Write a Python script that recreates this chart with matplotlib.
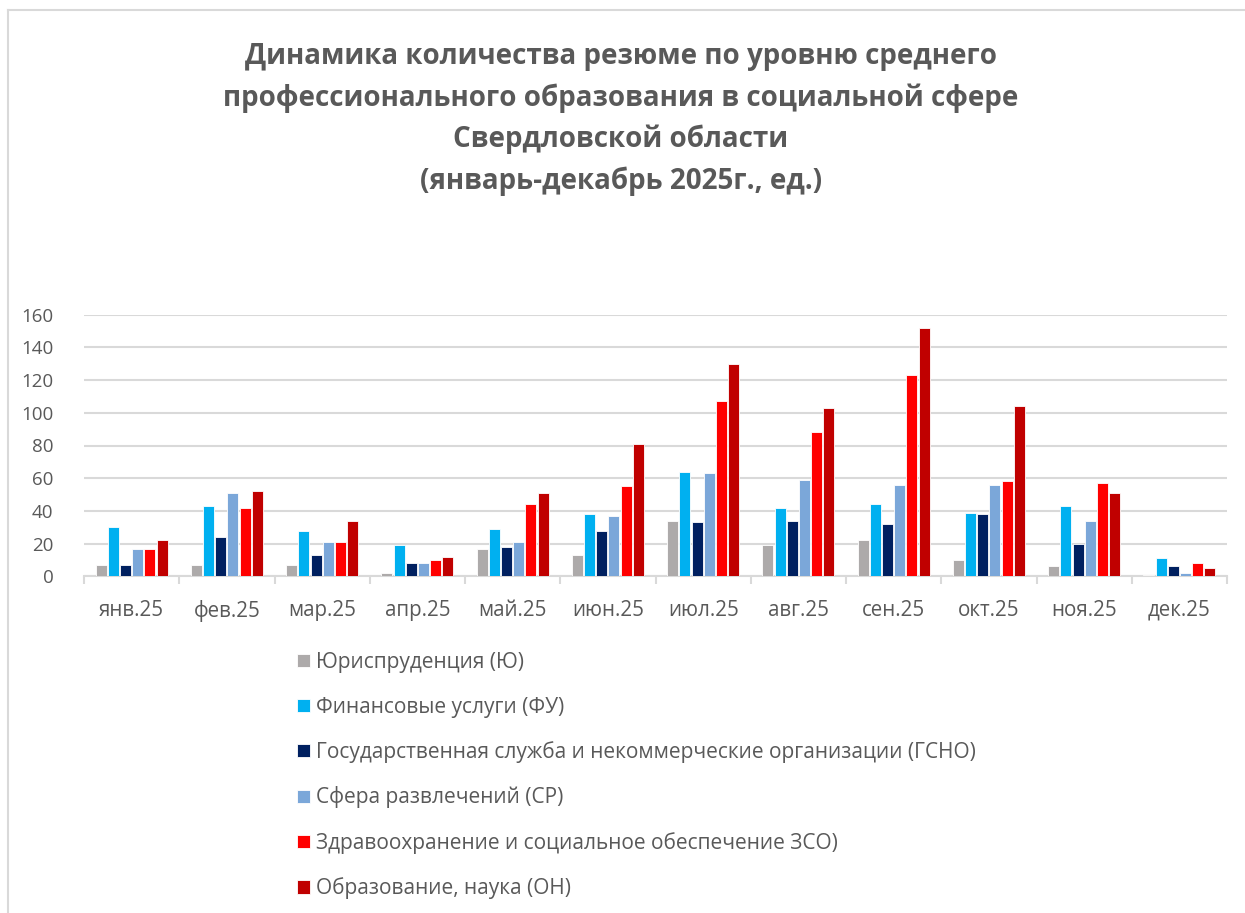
import matplotlib
matplotlib.use("Agg")
import matplotlib.pyplot as plt
import numpy as np
from matplotlib.lines import Line2D

plt.rcParams['font.family'] = ['Open Sans', 'DejaVu Sans']

months = ["янв.25", "фев.25", "мар.25", "апр.25", "май.25", "июн.25",
          "июл.25", "авг.25", "сен.25", "окт.25", "ноя.25", "дек.25"]

series_names = [
    "Юриспруденция (Ю)",
    "Финансовые услуги (ФУ)",
    "Государственная служба и некоммерческие организации (ГСНО)",
    "Сфера развлечений (СР)",
    "Здравоохранение и социальное обеспечение ЗСО)",
    "Образование, наука (ОН)",
]

law = [7, 7, 7, 2, 17, 13, 34, 19, 22, 10, 6, 1]
finance = [30, 43, 28, 19, 29, 38, 64, 42, 44, 39, 43, 11]
gov = [7, 24, 13, 8, 18, 28, 33, 34, 32, 38, 20, 6]
entertainment = [17, 51, 21, 8, 21, 37, 63, 59, 56, 56, 34, 2]
health = [17, 42, 21, 10, 44, 55, 107, 88, 123, 58, 57, 8]
education = [22, 52, 34, 12, 51, 81, 130, 103, 152, 104, 51, 5]

colors = ["#ADAAAA", "#00B0F0", "#002060", "#7BA7D9", "#FF0000", "#C00000"]

title = ("Динамика количества резюме по уровню среднего\n"
         "профессионального образования в социальной сфере\n"
         "Свердловской области\n"
         "(январь-декабрь 2025г., ед.)")

text_color = "#595959"
grid_color = "#D9D9D9"

fig = plt.figure(figsize=(12.45, 9.13), dpi=100)
ax = fig.add_axes([84 / 1245, (913 - 576.3) / 913, (1227 - 84) / 1245, (576.3 - 314.7) / 913])

data = [law, finance, gov, entertainment, health, education]
x = np.arange(len(months))
step = 0.128
width = 0.115
offsets = (np.arange(6) - 2.5) * step
for vals, off, col, name in zip(data, offsets, colors, series_names):
    ax.bar(x + off, vals, width=width, color=col, label=name, zorder=3,
           edgecolor="white", linewidth=0.6)

ax.set_xlim(-0.5, len(months) - 0.5)
ax.set_ylim(0, 160)
ax.set_yticks(np.arange(0, 161, 20))
ax.yaxis.grid(True, color=grid_color, linewidth=1.5, zorder=0)
ax.set_axisbelow(True)
for s in ["top", "right", "left"]:
    ax.spines[s].set_visible(False)
ax.spines["bottom"].set_color(grid_color)
ax.spines["bottom"].set_linewidth(1.5)
ax.tick_params(axis="y", length=0, labelsize=13.5, labelcolor=text_color, pad=22)
ax.set_xticks(x)
ax.set_xticklabels(months)
ax.tick_params(axis="x", length=0, labelsize=14.8, labelcolor=text_color, pad=17)
# category boundary ticks
ax.set_xticks(np.arange(-0.5, len(months), 1.0), minor=True)
ax.tick_params(axis="x", which="minor", length=6, width=1.5, color=grid_color)

fig.text(0.4985, 1 - 42 / 913, title, ha="center", va="top", fontsize=20,
         fontweight="bold", color=text_color, linespacing=1.54)

leg = fig.legend(loc="upper left", bbox_to_anchor=(297 / 1245, 1 - 652 / 913),
                 frameon=False, fontsize=15, labelcolor=text_color,
                 handlelength=0.6, handleheight=0.6, handletextpad=0.3,
                 labelspacing=1.13, borderaxespad=0, borderpad=0)

# chart border (top and left visible)
fig.add_artist(Line2D([8 / 1245, 1.0], [1 - 10 / 913, 1 - 10 / 913],
                      transform=fig.transFigure, color=grid_color, linewidth=1.5))
fig.add_artist(Line2D([8 / 1245, 8 / 1245], [0, 1 - 10 / 913],
                      transform=fig.transFigure, color=grid_color, linewidth=1.5))

fig.savefig("out.png", dpi=100)
